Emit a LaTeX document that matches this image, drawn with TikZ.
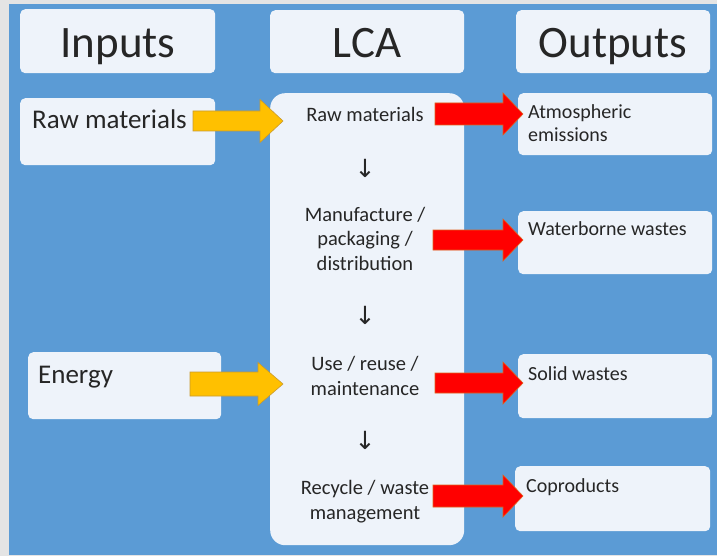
\documentclass[tikz,border=0pt]{standalone}
\usepackage{fontspec}
\setmainfont{Carlito}
\newfontfamily\symfont{DejaVu Sans}
\definecolor{bgblue}{HTML}{5B9BD5}
\definecolor{boxfill}{HTML}{EEF3FA}
\definecolor{framegray}{HTML}{E4E4E4}
\definecolor{arryel}{HTML}{FFC000}
\definecolor{arryeldk}{HTML}{C99A2E}
\definecolor{arrred}{HTML}{FF0000}
\definecolor{arrreddk}{HTML}{E0601E}
\definecolor{txt}{HTML}{262626}
\tikzset{
  box/.style={fill=boxfill, draw=none, rounded corners=5pt, inner sep=0pt},
  hdr/.style={font=\fontsize{45}{54}\selectfont, text=txt, inner sep=0pt},
  intxt/.style={font=\fontsize{27}{32}\selectfont, text=txt, inner sep=0pt},
  lcatxt/.style={font=\fontsize{20.5}{24.5}\selectfont, text=txt, inner sep=0pt, align=center},
  outtxt/.style={font=\fontsize{20}{23}\selectfont, text=txt, inner sep=0pt, align=left},
  downarr/.style={font=\symfont\fontsize{25}{26}\selectfont, text=txt, inner sep=0pt},
  yarrow/.style={fill=arryel, draw=arryeldk, line width=0.6pt},
  rarrow/.style={fill=arrred, draw=arrreddk, line width=0.6pt}
}
% style, x0, xhead, xtip, ycenter, shaft half-height, head half-height
\newcommand\blockarrow[7]{%
  \filldraw[#1] (#2,#5-#6) -- (#3,#5-#6) -- (#3,#5-#7) -- (#4,#5) -- (#3,#5+#7) -- (#3,#5+#6) -- (#2,#5+#6) -- cycle;}
\begin{document}
\begin{tikzpicture}[x=1pt,y=-1pt]
\useasboundingbox (0,0) rectangle (717,556);
\fill[framegray] (0,0) rectangle (717,556);
\fill[bgblue] (9,4) rectangle (717,555);

% header boxes
\node[box, minimum width=195pt, minimum height=64pt, anchor=north west] (hin) at (20,9) {};
\node[box, minimum width=194pt, minimum height=63pt, anchor=north west] (hlca) at (270,10) {};
\node[box, minimum width=194pt, minimum height=63pt, anchor=north west] (hout) at (516,10) {};
\node[hdr, anchor=base] (tin) at (118,58) {Inputs};
\node[hdr, anchor=base] (tlca) at (367,58) {LCA};
\node[hdr, anchor=base] (tout) at (613,58) {Outputs};

% input boxes
\node[box, minimum width=195pt, minimum height=67pt, anchor=north west] (braw) at (20,98) {};
\node[box, minimum width=193pt, minimum height=67pt, anchor=north west] (bene) at (28,352) {};
\node[intxt, anchor=base west] (traw) at (32,129) {Raw materials};
\node[intxt, anchor=base west] (tene) at (38,383) {Energy};

% LCA box
\node[box, rounded corners=15pt, minimum width=194pt, minimum height=452pt, anchor=north west] (blca) at (270,93) {};
\node[lcatxt, anchor=base] (l1) at (365,122) {Raw materials};
\node[downarr] (d1) at (365,168) {↓};
\node[lcatxt, anchor=base] (l2) at (365,270) {Manufacture /\\packaging /\\distribution};
\node[downarr] (d2) at (365,315) {↓};
\node[lcatxt, anchor=base] (l3) at (365,395) {Use / reuse /\\maintenance};
\node[downarr] (d3) at (365,440) {↓};
\node[lcatxt, anchor=base] (l4) at (365,519) {Recycle / waste\\management};

% output boxes
\node[box, minimum width=194pt, minimum height=62pt, anchor=north west] (batm) at (518,93) {};
\node[box, minimum width=194pt, minimum height=63pt, anchor=north west] (bwat) at (518,211) {};
\node[box, minimum width=194pt, minimum height=64pt, anchor=north west] (bsol) at (518,354) {};
\node[box, minimum width=195pt, minimum height=65pt, anchor=north west] (bcop) at (515,466) {};
\node[outtxt, anchor=base west] (tatm) at (528,142) {Atmospheric\\emissions};
\node[outtxt, anchor=base west] (twat) at (528,235) {Waterborne wastes};
\node[outtxt, anchor=base west] (tsol) at (528,380) {Solid wastes};
\node[outtxt, anchor=base west] (tcop) at (526,492) {Coproducts};

% block arrows
\blockarrow{yarrow}{193}{260}{283}{121}{10}{21.5}
\blockarrow{yarrow}{190}{258}{283}{384}{12}{21.5}
\blockarrow{rarrow}{435}{503}{523}{114}{11}{21}
\blockarrow{rarrow}{433}{503}{523}{240}{10}{21}
\blockarrow{rarrow}{435}{503}{523}{383}{10}{21}
\blockarrow{rarrow}{433}{503}{523}{496}{11}{21}
\end{tikzpicture}
\end{document}
